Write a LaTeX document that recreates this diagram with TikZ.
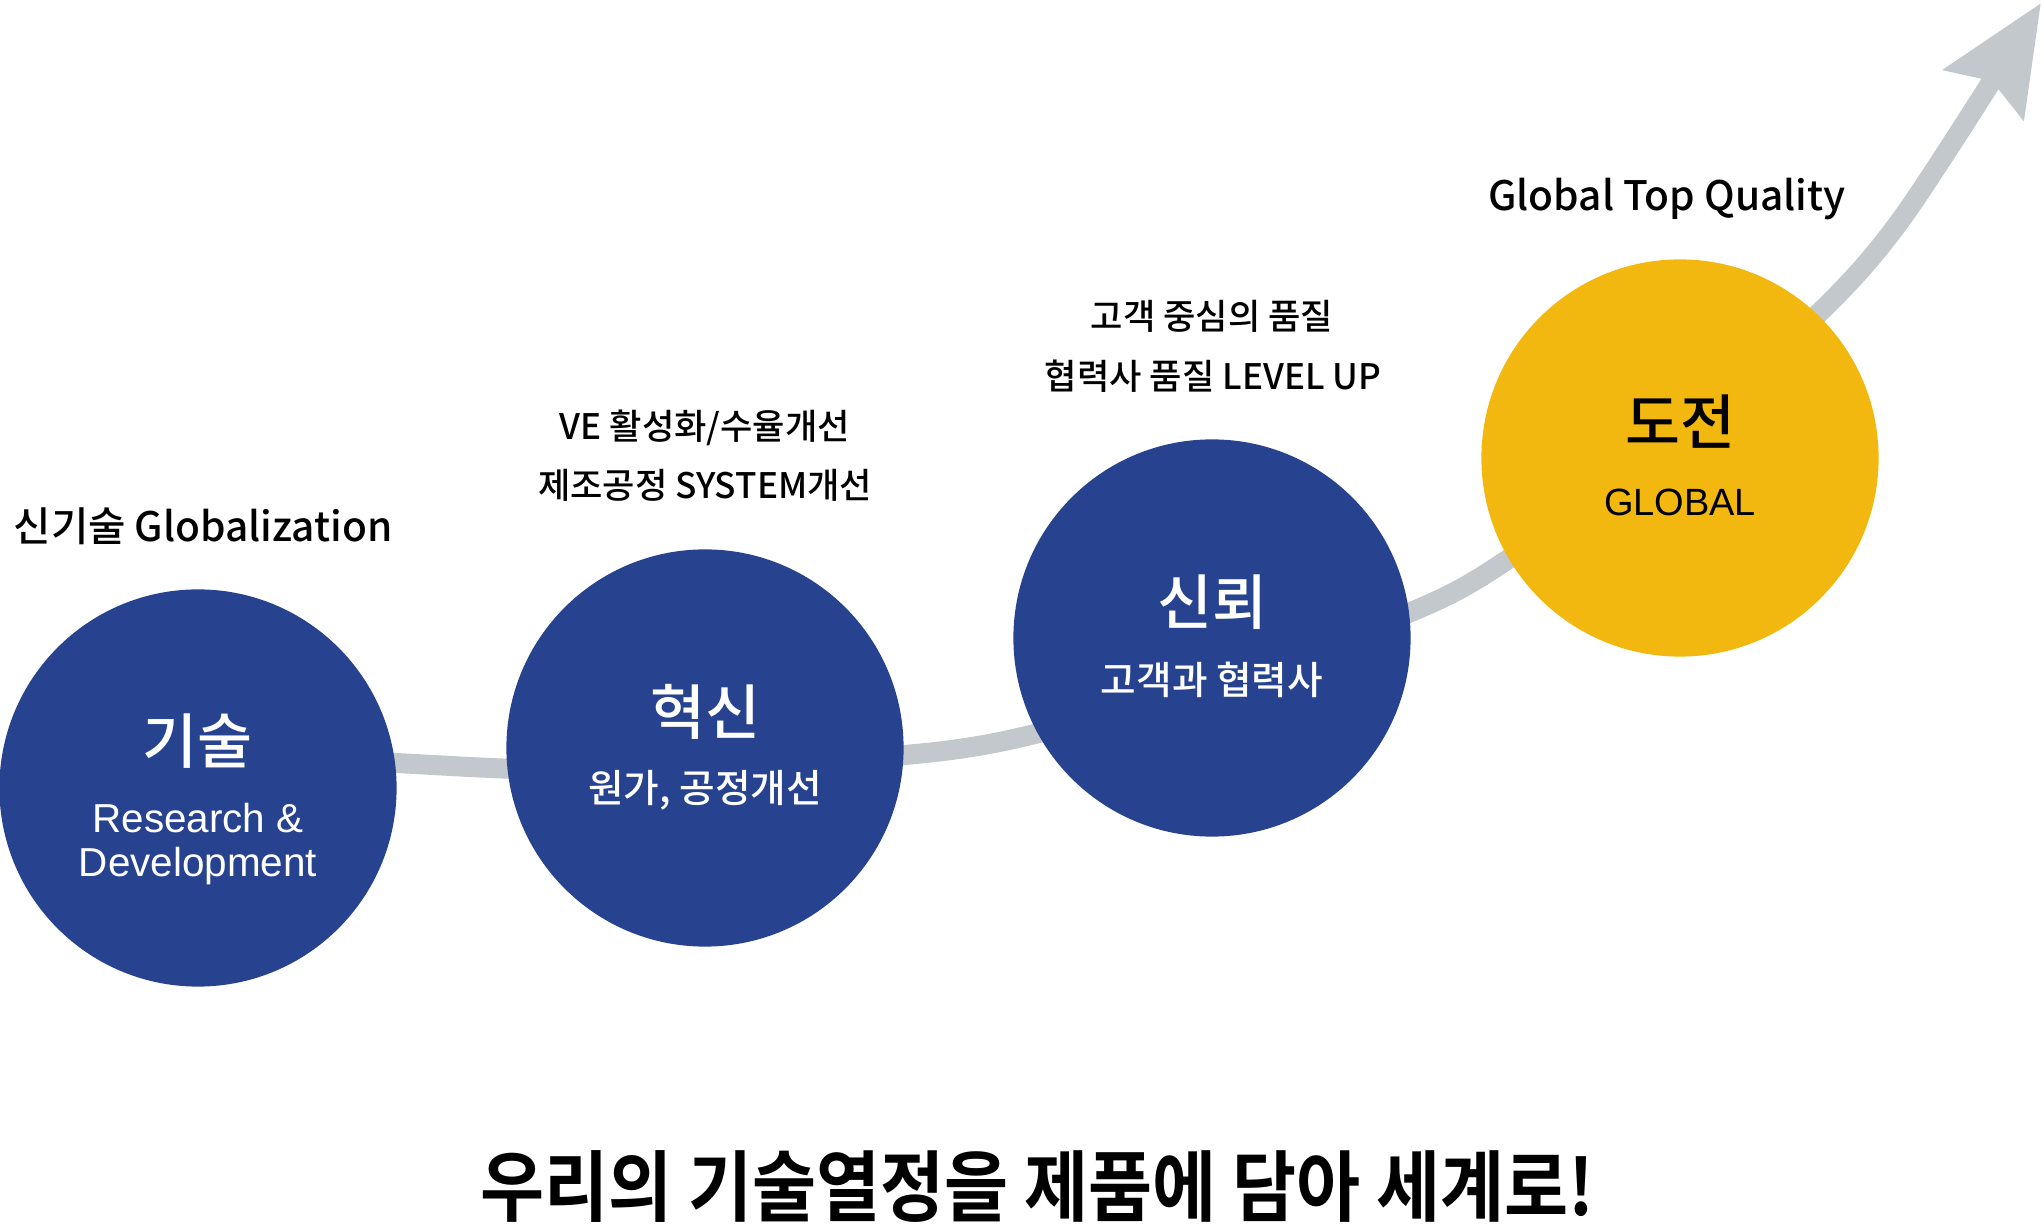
\documentclass[tikz,border=0pt]{standalone}
\usepackage{fontspec}
\setmainfont{Noto Sans CJK KR Medium}
\newfontfamily\medfont{Noto Sans CJK KR Medium}
\newfontfamily\headfont{Noto Sans CJK KR Bold}[FakeStretch=0.9]
\newfontfamily\latfont{Liberation Sans}
\usetikzlibrary{arrows.meta,calc}
\definecolor{stageblue}{HTML}{27438F}
\definecolor{stageyellow}{HTML}{F3B80F}
\definecolor{pathgray}{HTML}{C3C8CC}
\tikzset{
  stage/.style={circle,fill=stageblue,minimum size=3.97cm,inner sep=0pt},
  goal/.style={stage,fill=stageyellow},
  title/.style={font=\medfont\fontsize{17}{20}\selectfont,text=white},
  sub/.style={font=\medfont\fontsize{11}{13}\selectfont,text=white},
  latsub/.style={font=\latfont\fontsize{11.5}{12.5}\selectfont,text=white,align=center},
  note/.style={font=\fontsize{10}{12}\selectfont,anchor=base},
  bignote/.style={font=\fontsize{11.55}{14}\selectfont,anchor=base}
}
\begin{document}
\begin{tikzpicture}[x=0.01cm,y=-0.01cm]
  \useasboundingbox (0,0) rectangle (2044,1225);
  \draw[pathgray,line width=0.2cm,-{Stealth[length=1.07cm,width=0.92cm,inset=0.15cm]}]
    plot[smooth] coordinates {(198,750) (397,763) (560,770) (760,765) (935,752) (1039,733)
      (1212,684) (1411,612) (1507,560) (1680,432) (1818,314) (1905,214) (2041,3)};

  \node[stage] (tech) at (198,788) {};
  \node[stage] (innov) at (705,748) {};
  \node[stage] (trust) at (1212,638) {};
  \node[goal] (chal) at (1680,458) {};

  \node[title] (techT) at ($(tech)+(0,-47)$) {기술};
  \node[latsub] (techS) at ($(tech)+(0,56)$) {Research \&\\Development};
  \node[title] (innovT) at ($(innov)+(0,-36)$) {혁신};
  \node[sub] (innovS) at ($(innov)+(0,42)$) {원가, 공정개선};
  \node[title] (trustT) at ($(trust)+(0,-36)$) {신뢰};
  \node[sub] (trustS) at ($(trust)+(0,42)$) {고객과 협력사};
  \node[title,text=black] (chalT) at ($(chal)+(0,-36)$) {도전};
  \node[latsub,text=black,font=\latfont\fontsize{10.8}{12}\selectfont] (chalS) at ($(chal)+(0,44)$) {GLOBAL};

  \node[bignote] (glob) at (203,542) {신기술 Globalization};
  \node[note] (ve) at (705,440) {VE 활성화/수율개선};
  \node[note] (sys) at (705,499) {제조공정 SYSTEM개선};
  \node[note] (cust) at (1212,330) {고객 중심의 품질};
  \node[note] (level) at (1213,390) {협력사 품질 LEVEL UP};
  \node[bignote] (gtq) at (1667,211) {Global Top Quality};

  \node[anchor=base,font=\headfont\fontsize{22}{26}\selectfont] (motto) at (1037,1216) {우리의 기술열정을 제품에 담아 세계로!};
\end{tikzpicture}
\end{document}
